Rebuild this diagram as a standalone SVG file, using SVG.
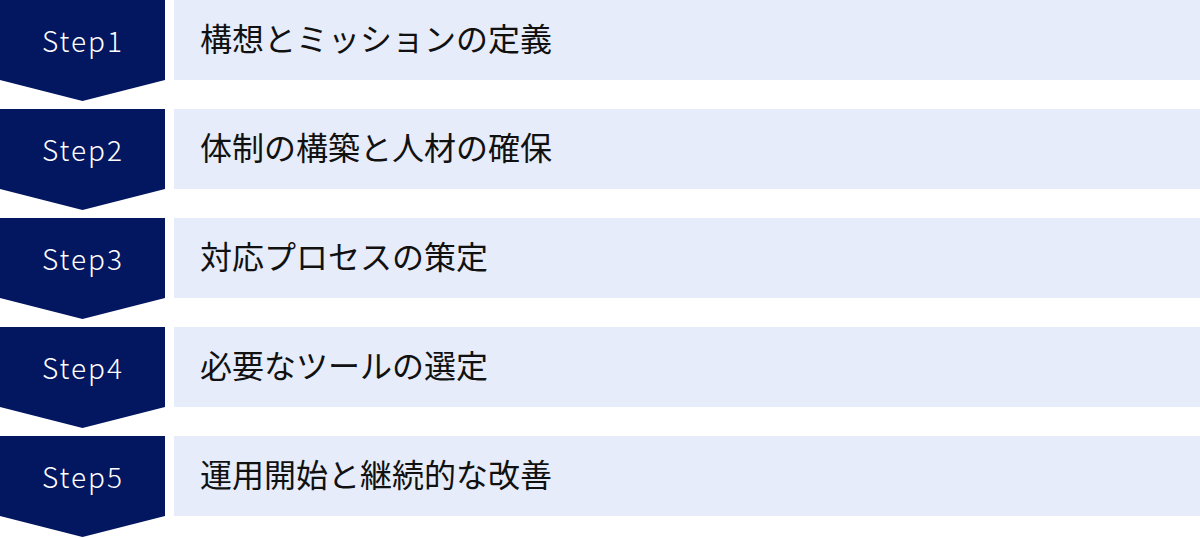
<svg xmlns="http://www.w3.org/2000/svg" width="1200" height="538" viewBox="0 0 1200 538">
<style>
.chev{fill:#031660}
.box{fill:#E6ECF9}
.lbl{font-family:"Noto Sans CJK JP","Noto Sans",sans-serif;font-size:28px;font-weight:300;fill:#ffffff;text-anchor:middle;letter-spacing:2px}
.txt{font-family:"Noto Sans CJK JP","Noto Sans",sans-serif;font-size:32px;fill:#111111}
</style>
<rect width="1200" height="538" fill="#ffffff"/>
<g id="step1">
<polygon class="chev" points="0,0 165,0 165,80 82.5,101 0,80"/>
<rect class="box" x="174" y="0" width="1026" height="80"/>
<text class="lbl" x="83" y="52">Step1</text>
<text class="txt" x="200" y="51">構想とミッションの定義</text>
</g>
<g id="step2">
<polygon class="chev" points="0,109 165,109 165,189 82.5,210 0,189"/>
<rect class="box" x="174" y="109" width="1026" height="80"/>
<text class="lbl" x="83" y="161">Step2</text>
<text class="txt" x="200" y="160">体制の構築と人材の確保</text>
</g>
<g id="step3">
<polygon class="chev" points="0,218 165,218 165,298 82.5,319 0,298"/>
<rect class="box" x="174" y="218" width="1026" height="80"/>
<text class="lbl" x="83" y="270">Step3</text>
<text class="txt" x="200" y="269">対応プロセスの策定</text>
</g>
<g id="step4">
<polygon class="chev" points="0,327 165,327 165,407 82.5,428 0,407"/>
<rect class="box" x="174" y="327" width="1026" height="80"/>
<text class="lbl" x="83" y="379">Step4</text>
<text class="txt" x="200" y="378">必要なツールの選定</text>
</g>
<g id="step5">
<polygon class="chev" points="0,436 165,436 165,516 82.5,537 0,516"/>
<rect class="box" x="174" y="436" width="1026" height="80"/>
<text class="lbl" x="83" y="488">Step5</text>
<text class="txt" x="200" y="487">運用開始と継続的な改善</text>
</g>
<g id="connectors"></g>
</svg>
